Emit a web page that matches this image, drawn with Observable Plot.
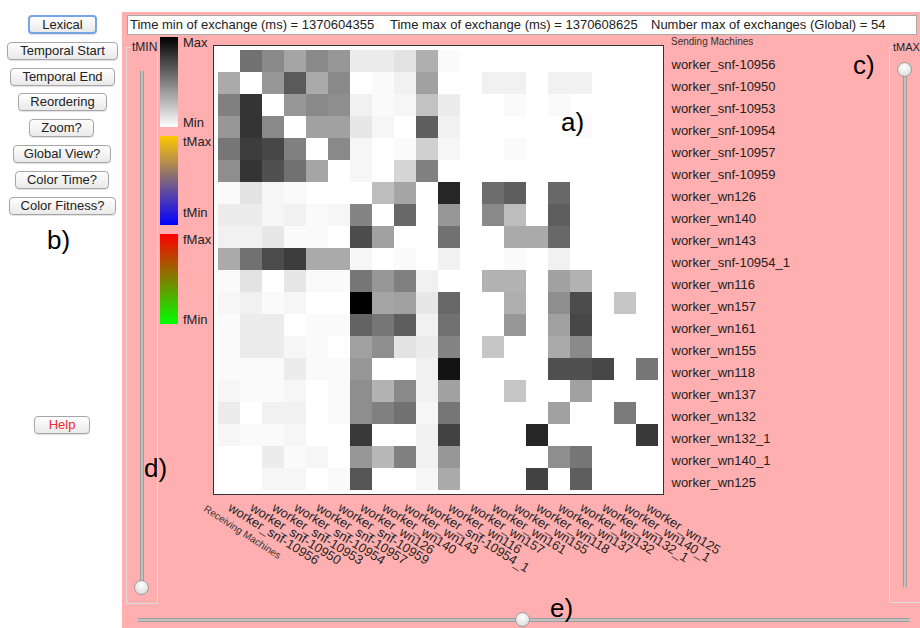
<!DOCTYPE html>
<html><head><meta charset="utf-8">
<script src="https://cdn.jsdelivr.net/npm/d3@7"></script>
<script src="https://cdn.jsdelivr.net/npm/@observablehq/plot@0.6"></script>
<style>
html,body{margin:0;padding:0;background:#fff;}
body{width:920px;height:628px;position:relative;overflow:hidden;font-family:"Liberation Sans",Arial,sans-serif;color:#222;}
.a{position:absolute;}
.btn{position:absolute;box-sizing:border-box;border:1px solid #a6a6a6;border-radius:4px;background:linear-gradient(#ffffff,#e9e9e9);font-size:13px;text-align:center;color:#222;box-shadow:0 1px 1px rgba(0,0,0,0.12);white-space:nowrap;}
.focus{border:2px solid #78a4e6;}
.lbl{position:absolute;font-size:13px;white-space:nowrap;line-height:14px;}
.big{position:absolute;font-size:26px;line-height:26px;color:#000;}
.trackv{position:absolute;width:4px;border-radius:2px;background:linear-gradient(to right,#8a8a8a,#d4d4d4,#8a8a8a);}
.trackh{position:absolute;height:4px;border-radius:2px;background:linear-gradient(#8a8a8a,#d4d4d4,#8a8a8a);}
.knob{position:absolute;width:15px;height:15px;box-sizing:border-box;border-radius:50%;border:1px solid #9a9a9a;background:radial-gradient(circle at 50% 35%,#ffffff,#e2e2e2 70%,#cfcfcf);}
.tbox{position:absolute;box-sizing:border-box;border:1px solid #dcdcdc;}
.ttl{position:absolute;font-size:12px;line-height:12px;background:#ffafaf;color:#222;}
</style></head><body>
<div class="a" style="left:122px;top:12px;width:798px;height:616px;background:#ffafaf;"></div>

<div class="btn focus" style="left:28px;top:15px;width:69px;height:19px;line-height:15px;">Lexical</div>
<div class="btn" style="left:7px;top:42px;width:111px;height:18px;line-height:16px;">Temporal Start</div>
<div class="btn" style="left:10px;top:68px;width:105px;height:18px;line-height:16px;">Temporal End</div>
<div class="btn" style="left:18px;top:93px;width:89px;height:18px;line-height:16px;">Reordering</div>
<div class="btn" style="left:29px;top:119px;width:65px;height:18px;line-height:16px;">Zoom?</div>
<div class="btn" style="left:13px;top:145px;width:98px;height:18px;line-height:16px;">Global View?</div>
<div class="btn" style="left:15px;top:171px;width:94px;height:18px;line-height:16px;">Color Time?</div>
<div class="btn" style="left:9px;top:197px;width:107px;height:18px;line-height:16px;">Color Fitness?</div>
<div class="btn" style="left:34px;top:416px;width:56px;height:18px;line-height:16px;color:#ee2b33;">Help</div>

<div class="a" style="left:127px;top:15px;width:790px;height:20px;box-sizing:border-box;background:#fff;border:1px solid #a8a8a8;"></div>
<div class="lbl" style="left:130px;top:18px;">Time min of exchange (ms) = 1370604355</div>
<div class="lbl" style="left:390px;top:18px;">Time max of exchange (ms) = 1370608625</div>
<div class="lbl" style="left:651px;top:18px;">Number max of exchanges (Global) = 54</div>

<div class="tbox" style="left:126px;top:47px;width:32px;height:557px;"></div>
<div class="ttl" style="left:131px;top:41px;padding:0 1px;">tMIN</div>
<div class="trackv" style="left:140px;top:70px;height:518px;"></div>
<div class="knob" style="left:134px;top:580px;"></div>

<div class="tbox" style="left:889px;top:47px;width:40px;height:556px;"></div>
<div class="ttl" style="left:892px;top:41px;padding:0 1px;font-size:11px;">tMAX</div>
<div class="trackv" style="left:903px;top:70px;height:518px;"></div>
<div class="knob" style="left:897px;top:62px;"></div>

<div class="trackh" style="left:137px;top:618px;width:773px;"></div>
<div class="knob" style="left:515px;top:612px;"></div>

<div class="a" style="left:160px;top:37px;width:18px;height:90px;background:linear-gradient(#000000,#ffffff);"></div>
<div class="a" style="left:160px;top:136px;width:18px;height:89px;background:linear-gradient(#ffc800,#0000ff);"></div>
<div class="a" style="left:160px;top:234px;width:18px;height:90px;background:linear-gradient(#ff0000,#00ff00);"></div>
<div class="lbl" style="left:183px;top:36px;">Max</div>
<div class="lbl" style="left:183px;top:116px;">Min</div>
<div class="lbl" style="left:183px;top:135px;">tMax</div>
<div class="lbl" style="left:183px;top:206px;">tMin</div>
<div class="lbl" style="left:183px;top:233px;">fMax</div>
<div class="lbl" style="left:183px;top:313px;">fMin</div>

<div class="a" style="left:671px;top:36px;font-size:10px;line-height:11px;color:#333;white-space:nowrap;">Sending Machines</div>
<div class="a" style="left:208px;top:503px;font-size:10px;line-height:11px;color:#333;white-space:nowrap;transform:rotate(33deg);transform-origin:0 0;">Receiving Machines</div>

<div id="chart" class="a" style="left:0;top:0;"></div>

<div class="big" style="left:561px;top:109px;">a)</div>
<div class="big" style="left:47px;top:227px;">b)</div>
<div class="big" style="left:853px;top:52px;">c)</div>
<div class="big" style="left:144px;top:455px;">d)</div>
<div class="big" style="left:550px;top:595px;">e)</div>

<script>
// Machines (same order for senders = rows and receivers = columns)
const machines = [
  "worker_snf-10956","worker_snf-10950","worker_snf-10953","worker_snf-10954",
  "worker_snf-10957","worker_snf-10959","worker_wn126","worker_wn140",
  "worker_wn143","worker_snf-10954_1","worker_wn116","worker_wn157",
  "worker_wn161","worker_wn155","worker_wn118","worker_wn137",
  "worker_wn132","worker_wn132_1","worker_wn140_1","worker_wn125"
];
const maxExchanges = 54;
// Number of exchanges: one row per sending machine, one column per receiving machine
const exchangeCounts = [
  [0,30,25,19,25,22,4,4,6,17,1,0,0,0,0,0,0,0,0,0],
  [18,0,22,35,18,25,0,1,3,20,0,0,3,3,0,3,3,0,0,0],
  [27,43,0,22,25,24,3,1,2,13,4,0,0,1,0,1,0,0,0,0],
  [22,43,25,0,20,20,5,2,0,34,3,0,0,0,0,0,1,0,0,0],
  [29,41,39,27,0,25,2,0,1,10,2,0,0,1,0,0,0,0,0,0],
  [24,43,37,30,19,0,2,0,9,27,0,0,0,0,0,0,0,0,0,0],
  [1,6,2,1,0,0,0,14,19,0,46,0,31,34,0,32,0,0,0,0],
  [4,4,2,3,1,2,26,0,32,0,22,0,25,14,0,34,0,0,0,0],
  [3,3,5,1,1,0,38,20,0,0,30,0,0,18,18,32,0,0,0,0],
  [18,30,38,41,18,18,2,0,1,0,3,0,0,1,0,3,0,0,0,0],
  [1,6,0,5,1,1,29,22,27,3,0,0,16,16,0,20,16,0,0,0],
  [2,3,1,2,0,0,54,19,20,5,32,0,0,17,0,24,38,0,12,0],
  [1,4,4,0,1,1,33,29,34,3,30,0,0,22,0,20,39,0,0,0],
  [1,4,4,2,1,0,20,24,6,4,26,0,12,0,0,18,25,0,0,0],
  [1,1,1,4,1,1,22,0,0,3,50,0,0,0,0,37,37,39,0,29],
  [2,1,1,2,0,1,24,16,25,3,20,0,0,12,0,0,20,0,0,0],
  [4,0,3,3,0,1,24,27,30,2,29,0,0,0,0,20,0,0,28,0],
  [2,1,1,2,0,0,42,0,0,3,40,0,0,0,46,0,0,0,0,42],
  [0,0,4,1,2,0,22,15,27,3,22,0,0,0,0,24,29,0,0,0],
  [0,0,2,2,0,1,36,0,0,2,18,0,0,0,40,0,34,0,0,0]
];

const cells = exchangeCounts.flatMap((row, i) =>
  row.map((v, j) => ({sender: machines[i], receiver: machines[j], count: v})));

const chart = Plot.plot({
  width: 920,
  height: 628,
  marginLeft: 213,
  marginRight: 257,
  marginTop: 45,
  marginBottom: 134,
  style: {background: "transparent", fontFamily: "'Liberation Sans', Arial, sans-serif", fontSize: "13px", color: "#222", overflow: "visible"},
  x: {domain: machines, padding: 0, label: null},
  y: {domain: machines, padding: 0, label: null},
  color: {type: "linear", domain: [0, maxExchanges], range: ["#ffffff", "#000000"]},
  marks: [
    Plot.frame({fill: "white"}),
    Plot.cell(cells, {x: "receiver", y: "sender", fill: "count", inset: 0, shapeRendering: "crispEdges"}),
    Plot.frame({stroke: "#333", strokeWidth: 1}),
    Plot.axisY({anchor: "right", tickSize: 0, tickPadding: 8, dy: 3, fontSize: 13, label: null}),
    Plot.axisX({anchor: "bottom", tickSize: 0, tickPadding: 12, tickRotate: 32, fontSize: 13, label: null})
  ]
});
document.getElementById("chart").appendChild(chart);
</script>
</body></html>
